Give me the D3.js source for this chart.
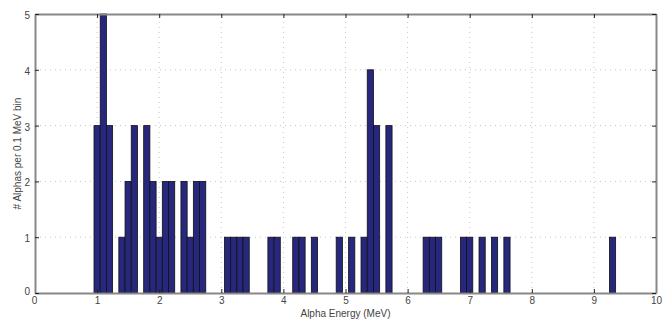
<!DOCTYPE html>
<html>
<head>
<meta charset="utf-8">
<script src="https://cdn.jsdelivr.net/npm/d3@7"></script>
<style>
  body { margin: 0; background: #fff; }
  svg { font-family: "Liberation Sans", Arial, sans-serif; }
</style>
</head>
<body>
<svg id="chart"></svg>
<script>
const width = 670;
const height = 320;
const margin = {left: 35, right: 14, top: 14, bottom: 27};

// bin centres (MeV) and counts per 0.1 MeV bin
const binCenters = [1.0, 1.1, 1.2, 1.4, 1.5, 1.6, 1.8, 1.9, 2.0, 2.1, 2.2, 2.4, 2.5, 2.6, 2.7,
                    3.1, 3.2, 3.3, 3.4, 3.8, 3.9, 4.2, 4.3, 4.5, 4.9, 5.1, 5.3, 5.4, 5.5, 5.7,
                    6.3, 6.4, 6.5, 6.9, 7.0, 7.2, 7.4, 7.6, 9.3];
const counts = [3, 5, 3, 1, 2, 3, 3, 2, 1, 2, 2, 2, 1, 2, 2,
                1, 1, 1, 1, 1, 1, 1, 1, 1, 1, 1, 1, 4, 3, 3,
                1, 1, 1, 1, 1, 1, 1, 1, 1];
const xTicks = [0, 1, 2, 3, 4, 5, 6, 7, 8, 9, 10];
const yTicks = [0, 1, 2, 3, 4, 5];
const binWidth = 0.1;

const svg = d3.select('#chart')
            .attr('width', width)
            .attr('height', height);

const x = d3.scaleLinear().domain([0, 10]).range([margin.left, width - margin.right]);
const y = d3.scaleLinear().domain([0, 5]).range([height - margin.bottom, margin.top]);

// dotted grid
svg.append('g').selectAll('line').data(xTicks.slice(1, -1)).enter()
    .append('line')
    .attr('x1', d => x(d)).attr('x2', d => x(d))
    .attr('y1', y(0)).attr('y2', y(5))
    .attr('stroke', '#c8c8c8').attr('stroke-width', 1)
    .attr('stroke-dasharray', '1,4');
svg.append('g').selectAll('line').data(yTicks.slice(1, -1)).enter()
    .append('line')
    .attr('x1', x(0)).attr('x2', x(10))
    .attr('y1', d => y(d)).attr('y2', d => y(d))
    .attr('stroke', '#c8c8c8').attr('stroke-width', 1)
    .attr('stroke-dasharray', '1,4');

// bars
const data = binCenters.map((c, i) => ({c: c, n: counts[i]}));
svg.append('g').selectAll('rect').data(data).enter()
    .append('rect')
    .attr('x', d => x(d.c - binWidth / 2))
    .attr('width', d => x(d.c + binWidth / 2) - x(d.c - binWidth / 2))
    .attr('y', d => y(d.n))
    .attr('height', d => y(0) - y(d.n))
    .attr('fill', '#27277d')
    .attr('stroke', '#111')
    .attr('stroke-width', 0.8);

// axes (ticks inward, mirrored on top/right)
const tickFmt = d3.format('d');
const xAxis = svg.append('g').attr('transform', `translate(0, ${y(0)})`)
    .call(d3.axisBottom(x).tickValues(xTicks).tickSizeInner(-4).tickSizeOuter(0).tickPadding(4).tickFormat(tickFmt));
const xAxisTop = svg.append('g').attr('transform', `translate(0, ${y(5)})`)
    .call(d3.axisTop(x).tickValues(xTicks).tickSizeInner(-4).tickSizeOuter(0).tickFormat(''));
const yAxis = svg.append('g').attr('transform', `translate(${x(0)}, 0)`)
    .call(d3.axisLeft(y).tickValues(yTicks).tickSizeInner(-4).tickSizeOuter(0).tickPadding(5).tickFormat(tickFmt));
const yAxisRight = svg.append('g').attr('transform', `translate(${x(10)}, 0)`)
    .call(d3.axisRight(y).tickValues(yTicks).tickSizeInner(-4).tickSizeOuter(0).tickFormat(''));

[xAxis, xAxisTop, yAxis, yAxisRight].forEach(g => {
    g.select('.domain').attr('stroke', '#888').attr('stroke-width', 2);
    g.selectAll('.tick line').attr('stroke', '#222').attr('stroke-width', 1);
    g.selectAll('.tick text').attr('fill', '#444').style('font-size', '10px');
});
yAxis.selectAll('.tick text').attr('dy', '0.45em');
// origin labels sit a little apart as in the original
xAxis.selectAll('.tick text').filter(d => d === 0).attr('dx', '-1px');
yAxis.selectAll('.tick text').filter(d => d === 0).attr('dy', '0.1em');

svg.append('text')
    .attr('x', (x(0) + x(10)) / 2)
    .attr('y', height - 3)
    .attr('text-anchor', 'middle')
    .attr('fill', '#444')
    .style('font-size', '10px')
    .text('Alpha Energy (MeV)');

svg.append('text')
    .attr('transform', `translate(21, ${(y(0) + y(5)) / 2}) rotate(-90)`)
    .attr('text-anchor', 'middle')
    .attr('fill', '#444')
    .style('font-size', '10px')
    .text('# Alphas per 0.1 MeV bin');
</script>
</body>
</html>
